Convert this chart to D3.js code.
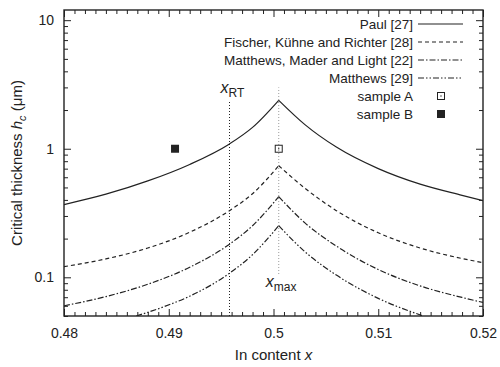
<!DOCTYPE html>
<html>
<head>
<meta charset="utf-8">
<script src="https://cdn.jsdelivr.net/npm/d3@7"></script>
<style>
    body { margin: 0; background: #fff; }
    svg text { font-family: "Liberation Sans", Arial, Helvetica, sans-serif; fill: #222; }
</style>
</head>
<body>
<svg id="chart" width="500" height="367"></svg>
<script>
// values
let xGrid = [0.48, 0.484, 0.488, 0.492, 0.4958, 0.498, 0.5005, 0.503, 0.506, 0.510, 0.514, 0.518, 0.52];
let hPaul = [0.368, 0.443, 0.562, 0.755, 1.09, 1.465, 2.38, 1.54, 1.03, 0.70, 0.53, 0.434, 0.395];
let hFischer = [0.121, 0.139, 0.169, 0.224, 0.33, 0.447, 0.738, 0.493, 0.33, 0.222, 0.169, 0.140, 0.130];
let hMML = [0.06, 0.0708, 0.0883, 0.1197, 0.181, 0.252, 0.424, 0.265, 0.175, 0.115, 0.0857, 0.0697, 0.0637];
let xMatthews = [0.4869, 0.4895, 0.492, 0.4958, 0.498, 0.5005, 0.503, 0.506, 0.510, 0.5143];
let hMatthews = [0.05, 0.0589, 0.0713, 0.1076, 0.150, 0.252, 0.158, 0.104, 0.0686, 0.05];

let seriesNames = ["Paul [27]", "Fischer, Kühne and Richter [28]", "Matthews, Mader and Light [22]", "Matthews [29]"];
let sampleNames = ["sample A", "sample B"];
let sampleX = [0.5005, 0.4906];
let sampleH = [1.0, 1.0];

let xTicks = [0.48, 0.49, 0.5, 0.51, 0.52];
let xTickLabels = ["0.48", "0.49", "0.5", "0.51", "0.52"];
let yTicks = [0.1, 1, 10];
let yTickLabels = ["0.1", "1", "10"];

let xRT = 0.4958, xRTRange = [0.05, 2.35];
let xMax = 0.5005, xMaxRange = [0.106, 3.0];

let svg = d3.select("#chart");
let pLeft = 64, pRight = 483, pTop = 10, pBottom = 316;
let ink = "#222";

let x = d3.scaleLinear().domain([0.48, 0.52]).range([pLeft, pRight]);
let y = d3.scaleLog().domain([0.05, 12]).range([pBottom, pTop]);

let dashes = [null, "4,3", "6,2,1.5,2", "6,2,1.5,2,1.5,2"];

svg.append("defs").append("clipPath").attr("id", "clip")
    .append("rect").attr("x", pLeft).attr("y", pTop)
    .attr("width", pRight - pLeft).attr("height", pBottom - pTop);

// ticks on all four sides, pointing inward
let minorX = d3.range(0, 41).map(function(i) { return 0.48 + i * 0.001; })
    .filter(function(v, i) { return i % 10 != 0; });
let minorY = [];
[0.01, 0.1, 1].forEach(function(d) {
    for (let k = 2; k <= 9; k++) {
        let v = d * k;
        if (v >= 0.05 && v <= 12) minorY.push(v);
    }
});

function styleAxis(g) {
    g.select(".domain").remove();
    g.selectAll("line").attr("stroke", ink).attr("stroke-width", 1);
    g.selectAll("text").style("font-size", "14px").attr("fill", ink);
}

svg.append("g").attr("transform", "translate(0," + pBottom + ")")
    .call(d3.axisBottom(x).tickValues(xTicks).tickSizeInner(-7).tickSizeOuter(0).tickPadding(12)
        .tickFormat(function(d, i) { return xTickLabels[i]; }))
    .call(styleAxis);
svg.append("g").attr("transform", "translate(0," + pBottom + ")")
    .call(d3.axisBottom(x).tickValues(minorX).tickSizeInner(-4).tickSizeOuter(0).tickFormat(""))
    .call(styleAxis);
svg.append("g").attr("transform", "translate(0," + pTop + ")")
    .call(d3.axisTop(x).tickValues(xTicks).tickSizeInner(-7).tickSizeOuter(0).tickFormat(""))
    .call(styleAxis);
svg.append("g").attr("transform", "translate(0," + pTop + ")")
    .call(d3.axisTop(x).tickValues(minorX).tickSizeInner(-4).tickSizeOuter(0).tickFormat(""))
    .call(styleAxis);

svg.append("g").attr("transform", "translate(" + pLeft + ",0)")
    .call(d3.axisLeft(y).tickValues(yTicks).tickSizeInner(-7).tickSizeOuter(0).tickPadding(10)
        .tickFormat(function(d, i) { return yTickLabels[i]; }))
    .call(styleAxis);
svg.append("g").attr("transform", "translate(" + pLeft + ",0)")
    .call(d3.axisLeft(y).tickValues(minorY).tickSizeInner(-4).tickSizeOuter(0).tickFormat(""))
    .call(styleAxis);
svg.append("g").attr("transform", "translate(" + pRight + ",0)")
    .call(d3.axisRight(y).tickValues(yTicks).tickSizeInner(-7).tickSizeOuter(0).tickFormat(""))
    .call(styleAxis);
svg.append("g").attr("transform", "translate(" + pRight + ",0)")
    .call(d3.axisRight(y).tickValues(minorY).tickSizeInner(-4).tickSizeOuter(0).tickFormat(""))
    .call(styleAxis);

svg.append("rect")
    .attr("x", pLeft).attr("y", pTop)
    .attr("width", pRight - pLeft).attr("height", pBottom - pTop)
    .attr("fill", "none").attr("stroke", ink).attr("stroke-width", 1.4);

// vertical marker lines
svg.append("line")
    .attr("x1", x(xRT)).attr("x2", x(xRT))
    .attr("y1", y(xRTRange[0])).attr("y2", y(xRTRange[1]))
    .attr("stroke", ink).attr("stroke-width", 1).attr("stroke-dasharray", "1,2");
svg.append("line")
    .attr("x1", x(xMax)).attr("x2", x(xMax))
    .attr("y1", y(xMaxRange[0])).attr("y2", y(xMaxRange[1]))
    .attr("stroke", "#999").attr("stroke-width", 1).attr("stroke-dasharray", "1,2");

// curves: each is drawn as two branches meeting at the cusp
let line = d3.line()
    .x(function(d) { return x(d[0]); })
    .y(function(d) { return y(d[1]); })
    .curve(d3.curveMonotoneX);

let allSeries = [
    [xGrid, hPaul],
    [xGrid, hFischer],
    [xGrid, hMML],
    [xMatthews, hMatthews]
];

let curves = svg.append("g").attr("clip-path", "url(#clip)");
allSeries.forEach(function(s, i) {
    let pts = s[0].map(function(v, j) { return [v, s[1][j]]; });
    let peak = d3.maxIndex(pts, function(d) { return d[1]; });
    [pts.slice(0, peak + 1), pts.slice(peak)].forEach(function(branch) {
        curves.append("path")
            .attr("d", line(branch))
            .attr("fill", "none")
            .attr("stroke", ink)
            .attr("stroke-width", 1.2)
            .attr("stroke-dasharray", dashes[i]);
    });
});

// samples
function drawSample(g, cx, cy, i) {
    if (i == 0) {
        g.append("rect").attr("x", cx - 3.5).attr("y", cy - 3.5).attr("width", 7).attr("height", 7)
            .attr("fill", "none").attr("stroke", ink).attr("stroke-width", 1);
        g.append("rect").attr("x", cx - 0.6).attr("y", cy - 0.6).attr("width", 1.2).attr("height", 1.2)
            .attr("fill", ink);
    } else {
        g.append("rect").attr("x", cx - 4).attr("y", cy - 4).attr("width", 8).attr("height", 8)
            .attr("fill", ink);
    }
}
sampleX.forEach(function(v, i) {
    drawSample(svg, x(v), y(sampleH[i]), i);
});

// marker labels
let rtLabel = svg.append("text").attr("x", x(xRT) - 9).attr("y", 93).style("font-size", "16px");
rtLabel.append("tspan").style("font-style", "italic").text("x");
rtLabel.append("tspan").attr("dy", 4).style("font-size", "12px").text("RT");

let maxLabel = svg.append("text").attr("x", x(xMax) - 13).attr("y", 287).style("font-size", "16px");
maxLabel.append("tspan").style("font-style", "italic").text("x");
maxLabel.append("tspan").attr("dy", 4).style("font-size", "12px").text("max");

// legend
let legend = svg.append("g");
let legendNames = seriesNames.concat(sampleNames);
legendNames.forEach(function(name, i) {
    let ly = 24 + i * 18;
    legend.append("text")
        .attr("x", 413).attr("y", ly).attr("dy", "0.35em")
        .attr("text-anchor", "end")
        .style("font-size", "13.5px")
        .text(name);
    if (i < seriesNames.length) {
        legend.append("line")
            .attr("x1", 418).attr("x2", 463).attr("y1", ly).attr("y2", ly)
            .attr("stroke", ink).attr("stroke-width", 1.2)
            .attr("stroke-dasharray", dashes[i]);
    } else {
        drawSample(legend, 441, ly, i - seriesNames.length);
    }
});

// axis titles
let xTitle = svg.append("text")
    .attr("x", (pLeft + pRight) / 2).attr("y", 360)
    .attr("text-anchor", "middle").style("font-size", "15px");
xTitle.append("tspan").text("In content ");
xTitle.append("tspan").style("font-style", "italic").text("x");

let yTitle = svg.append("text")
    .attr("transform", "translate(22," + (pTop + pBottom) / 2 + ") rotate(-90)")
    .attr("text-anchor", "middle").style("font-size", "15px");
yTitle.append("tspan").text("Critical thickness ");
yTitle.append("tspan").style("font-style", "italic").text("h");
yTitle.append("tspan").attr("dy", 4).style("font-style", "italic").style("font-size", "11px").text("c");
yTitle.append("tspan").attr("dy", -4).text(" (μm)");
</script>
</body>
</html>
